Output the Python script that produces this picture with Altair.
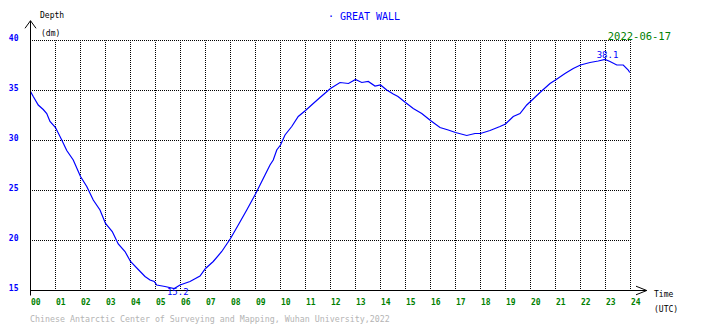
import altair as alt
import pandas as pd

# ---- data ----
hours = [0.0, 0.11, 0.31, 0.51, 0.65, 0.78, 1.0, 1.25, 1.45, 1.71, 2.0, 2.25, 2.51, 2.78,
         3.0, 3.27, 3.51, 3.78, 4.0, 4.31, 4.58, 4.78, 4.95, 5.05, 5.38, 5.75, 5.98, 6.38,
         6.78, 7.0, 7.31, 7.65, 8.0, 8.31, 8.65, 9.0, 9.38, 9.58, 9.71, 9.85, 10.0, 10.18,
         10.45, 10.71, 11.0, 11.31, 11.58, 12.0, 12.38, 12.72, 13.0, 13.25, 13.51, 13.78,
         14.0, 14.25, 14.51, 14.7, 15.0, 15.31, 15.65, 16.0, 16.38, 16.71, 17.0, 17.45,
         17.78, 18.0, 18.38, 18.78, 19.0, 19.31, 19.58, 19.85, 20.0, 20.38, 20.78, 21.0,
         21.38, 21.71, 22.0, 22.38, 22.71, 22.98, 23.18, 23.45, 23.71, 23.91, 23.97]
depths = [34.9, 34.4, 33.55, 33.1, 32.7, 31.9, 31.3, 30.05, 29.0, 28.05, 26.4, 25.4, 24.05, 23.05,
          21.7, 20.9, 19.65, 18.9, 17.9, 17.1, 16.4, 16.05, 15.9, 15.55, 15.4, 15.2, 15.55, 15.9,
          16.45, 17.2, 17.9, 18.9, 20.2, 21.55, 23.05, 24.65, 26.55, 27.55, 28.05, 29.05, 29.55, 30.55,
          31.4, 32.4, 33.0, 33.7, 34.3, 35.2, 35.8, 35.7, 36.1, 35.8, 35.9, 35.45,
          35.55, 35.05, 34.65, 34.4, 33.8, 33.2, 32.7, 32.0, 31.3, 31.05, 30.8, 30.5,
          30.7, 30.7, 31.0, 31.4, 31.65, 32.4, 32.7, 33.55, 33.9, 34.8, 35.7, 36.05,
          36.7, 37.2, 37.55, 37.8, 37.95, 38.1, 37.9, 37.55, 37.55, 37.05, 36.8]

x_ticks = list(range(25))
x_tick_labels = ["%02d" % h for h in x_ticks]
y_ticks = [15, 20, 25, 30, 35, 40]

station = "· GREAT WALL"
date_label = "2022-06-17"
y_title = "Depth"
y_unit = "(dm)"
x_title = "Time"
x_unit = "(UTC)"
footer = "Chinese Antarctic Center of Surveying and Mapping, Wuhan University,2022"

FONT = "DejaVu Sans Mono"
BLUE = "#0000ff"
GREEN = "#008000"

df = pd.DataFrame({"hour": hours, "depth": depths})
imin = df["depth"].idxmin()
imax = df["depth"].idxmax()
ext_min = pd.DataFrame({"hour": [df.hour[imin]], "depth": [df.depth[imin]],
                        "lab": ["%.1f" % df.depth[imin]]})
ext_max = pd.DataFrame({"hour": [df.hour[imax]], "depth": [df.depth[imax]],
                        "lab": ["%.1f" % df.depth[imax]]})

label_expr = "[" + ",".join("'%s'" % s for s in x_tick_labels) + "][datum.value]"

xscale = alt.Scale(domain=[0, 24], nice=False, zero=False)
yscale = alt.Scale(domain=[15, 40], nice=False, zero=False)

x_axis = alt.Axis(values=x_ticks, tickCount=len(x_ticks), labelExpr=label_expr, grid=True,
                  gridColor="black", gridDash=[1, 1], gridDashOffset=0.5, gridOpacity=1,
                  gridWidth=1, ticks=False, tickSize=0,
                  domain=False, labelFont=FONT, labelFontSize=8, labelFontWeight="bold",
                  labelColor=GREEN, labelAlign="left", labelBaseline="top", labelPadding=8,
                  labelOffset=0.5, labelOverlap=False, labelFlush=False, labelBound=False,
                  translate=0, title=None)
y_axis = alt.Axis(values=y_ticks, tickCount=len(y_ticks), grid=True, gridColor="black",
                  gridDash=[1, 1], gridDashOffset=0.5,
                  gridOpacity=1, gridWidth=1, ticks=False, tickSize=0, domain=False,
                  labelFont=FONT, labelFontSize=8, labelFontWeight="bold", labelColor=BLUE,
                  labelAlign="right", labelBaseline="middle", labelPadding=12,
                  labelOffset=-2, labelOverlap=False, labelFlush=False, labelBound=False,
                  translate=0, title=None)

curve = alt.Chart(df).mark_line(color=BLUE, strokeWidth=1.2, clip=False).encode(
    x=alt.X("hour:Q", scale=xscale, axis=x_axis),
    y=alt.Y("depth:Q", scale=yscale, axis=y_axis),
    order="hour:Q",
)

one = pd.DataFrame({"k": [0]})

left_axis = alt.Chart(one).mark_rule(color="black", strokeWidth=1).encode(
    x=alt.datum(0), y=alt.datum(41.98), y2=alt.datum(14.5))
bottom_axis = alt.Chart(one).mark_rule(color="black", strokeWidth=1).encode(
    y=alt.datum(15), x=alt.datum(0), x2=alt.datum(24.65))
up_arrow = alt.Chart(one).mark_point(shape="M-1,1.38L0,0L1,1.38", size=121, filled=False,
                                     color="black", strokeWidth=1, opacity=1).encode(
    x=alt.datum(0), y=alt.datum(41.98))
right_arrow = alt.Chart(one).mark_point(shape="M-2.5,-1L0,0L-2.5,1", size=74, filled=False,
                                        color="black", strokeWidth=1, opacity=1).encode(
    x=alt.datum(24.65), y=alt.datum(15))

min_lab = alt.Chart(ext_min).mark_text(font=FONT, fontSize=9, color=BLUE, dx=3.5, dy=3.5,
                                       baseline="middle").encode(
    x="hour:Q", y="depth:Q", text="lab:N")
max_lab = alt.Chart(ext_max).mark_text(font=FONT, fontSize=9, color=BLUE, dx=2.5, dy=-4.5,
                                       baseline="middle").encode(
    x="hour:Q", y="depth:Q", text="lab:N")


def label(txt, px, py, size, color, align="left", weight="normal"):
    return alt.Chart(pd.DataFrame({"t": [txt]})).mark_text(
        font=FONT, fontSize=size, color=color, align=align, baseline="middle",
        fontWeight=weight).encode(text="t:N", x=alt.value(px), y=alt.value(py))


texts = [
    label(y_title, 9.5, -24.5, 8, "black"),
    label(y_unit, 10.5, -7, 8, "black"),
    label(station, 333.5, -23.8, 10, BLUE, align="center"),
    label(date_label, 640.5, -4, 10.5, GREEN, align="right"),
    label(x_title, 623.5, 254, 8, "black"),
    label(x_unit, 623.5, 269, 8, "black"),
    label(footer, -0.5, 279.5, 8.3, "#b4b4b4"),
]

chart = alt.layer(curve, left_axis, bottom_axis, up_arrow, right_arrow, min_lab, max_lab,
                  *texts).properties(
    width=600, height=250,
    autosize=alt.AutoSizeParams(type="none"),
    padding={"left": 22.5, "top": 32.5, "right": 60, "bottom": 35},
    background="white",
).configure_view(stroke=None)

chart.save("out.html", embed_options={"renderer": "svg", "actions": False})
